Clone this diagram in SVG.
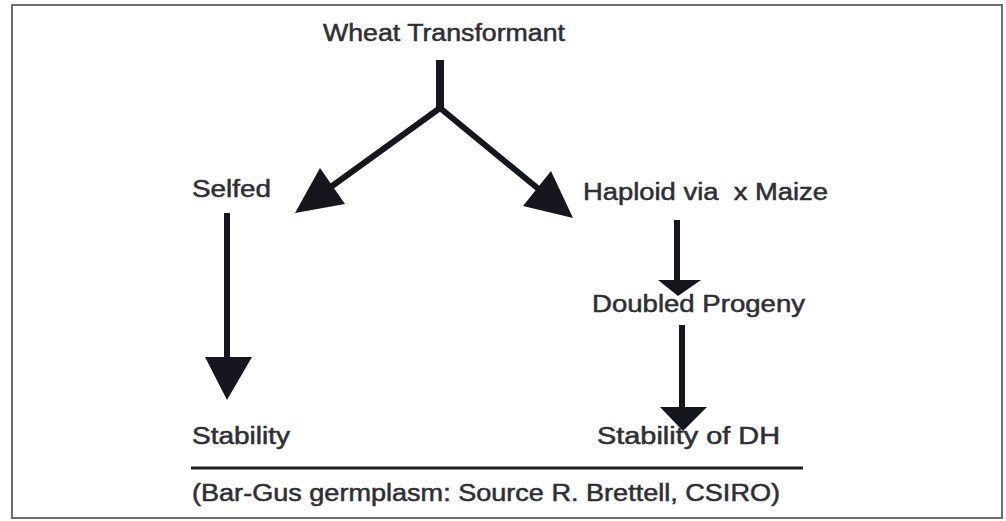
<svg xmlns="http://www.w3.org/2000/svg" width="1006" height="521" viewBox="0 0 1006 521">
  <style>
    .lbl { font-family: "Liberation Sans", Arial, sans-serif; font-size: 23px; fill: #2e2e36; stroke: #2e2e36; stroke-width: 0.5; white-space: pre; }
    .ln { stroke: #16161e; stroke-width: 6; fill: none; }
    .hd { fill: #16161e; stroke: none; }
  </style>
  <rect x="0" y="0" width="1006" height="521" fill="#ffffff"/>
  <rect x="12" y="5" width="990" height="513" fill="none" stroke="#6e6e78" stroke-width="2"/>

  <g id="connectors">
    <line class="ln" x1="440" y1="60" x2="440" y2="110" style="stroke-width:8"/>
    <line class="ln" x1="440" y1="108" x2="328" y2="189"/>
    <polygon class="hd" points="295,213 320,168 345,204"/>
    <line class="ln" x1="440" y1="108" x2="541" y2="191"/>
    <polygon class="hd" points="573,218 551,171 523,206"/>
    <line class="ln" x1="227" y1="213" x2="227" y2="360"/>
    <polygon class="hd" points="205,357 252,357 227,400"/>
    <line class="ln" x1="677" y1="220" x2="677" y2="282"/>
    <polygon class="hd" points="658,280 701,280 678,296"/>
    <line class="ln" x1="682" y1="325" x2="682" y2="410"/>
    <polygon class="hd" points="660,407 707,407 683,431"/>
    <line x1="191" y1="468" x2="803" y2="468" stroke="#1e1e26" stroke-width="3"/>
  </g>

  <g id="node-wheat"><text class="lbl" x="323" y="41" textLength="242" lengthAdjust="spacingAndGlyphs">Wheat Transformant</text></g>
  <g id="node-selfed"><text class="lbl" x="192" y="197" textLength="79" lengthAdjust="spacingAndGlyphs">Selfed</text></g>
  <g id="node-haploid"><text class="lbl" x="583" y="200" textLength="245" lengthAdjust="spacingAndGlyphs">Haploid via  x Maize</text></g>
  <g id="node-doubled"><text class="lbl" x="592" y="312" textLength="213" lengthAdjust="spacingAndGlyphs">Doubled Progeny</text></g>
  <g id="node-stability"><text class="lbl" x="192" y="444" textLength="98" lengthAdjust="spacingAndGlyphs">Stability</text></g>
  <g id="node-stability-dh"><text class="lbl" x="597" y="444" textLength="183" lengthAdjust="spacingAndGlyphs">Stability of DH</text></g>
  <g id="caption"><text class="lbl" x="192" y="501" textLength="588" lengthAdjust="spacingAndGlyphs">(Bar-Gus germplasm: Source R. Brettell, CSIRO)</text></g>
</svg>
